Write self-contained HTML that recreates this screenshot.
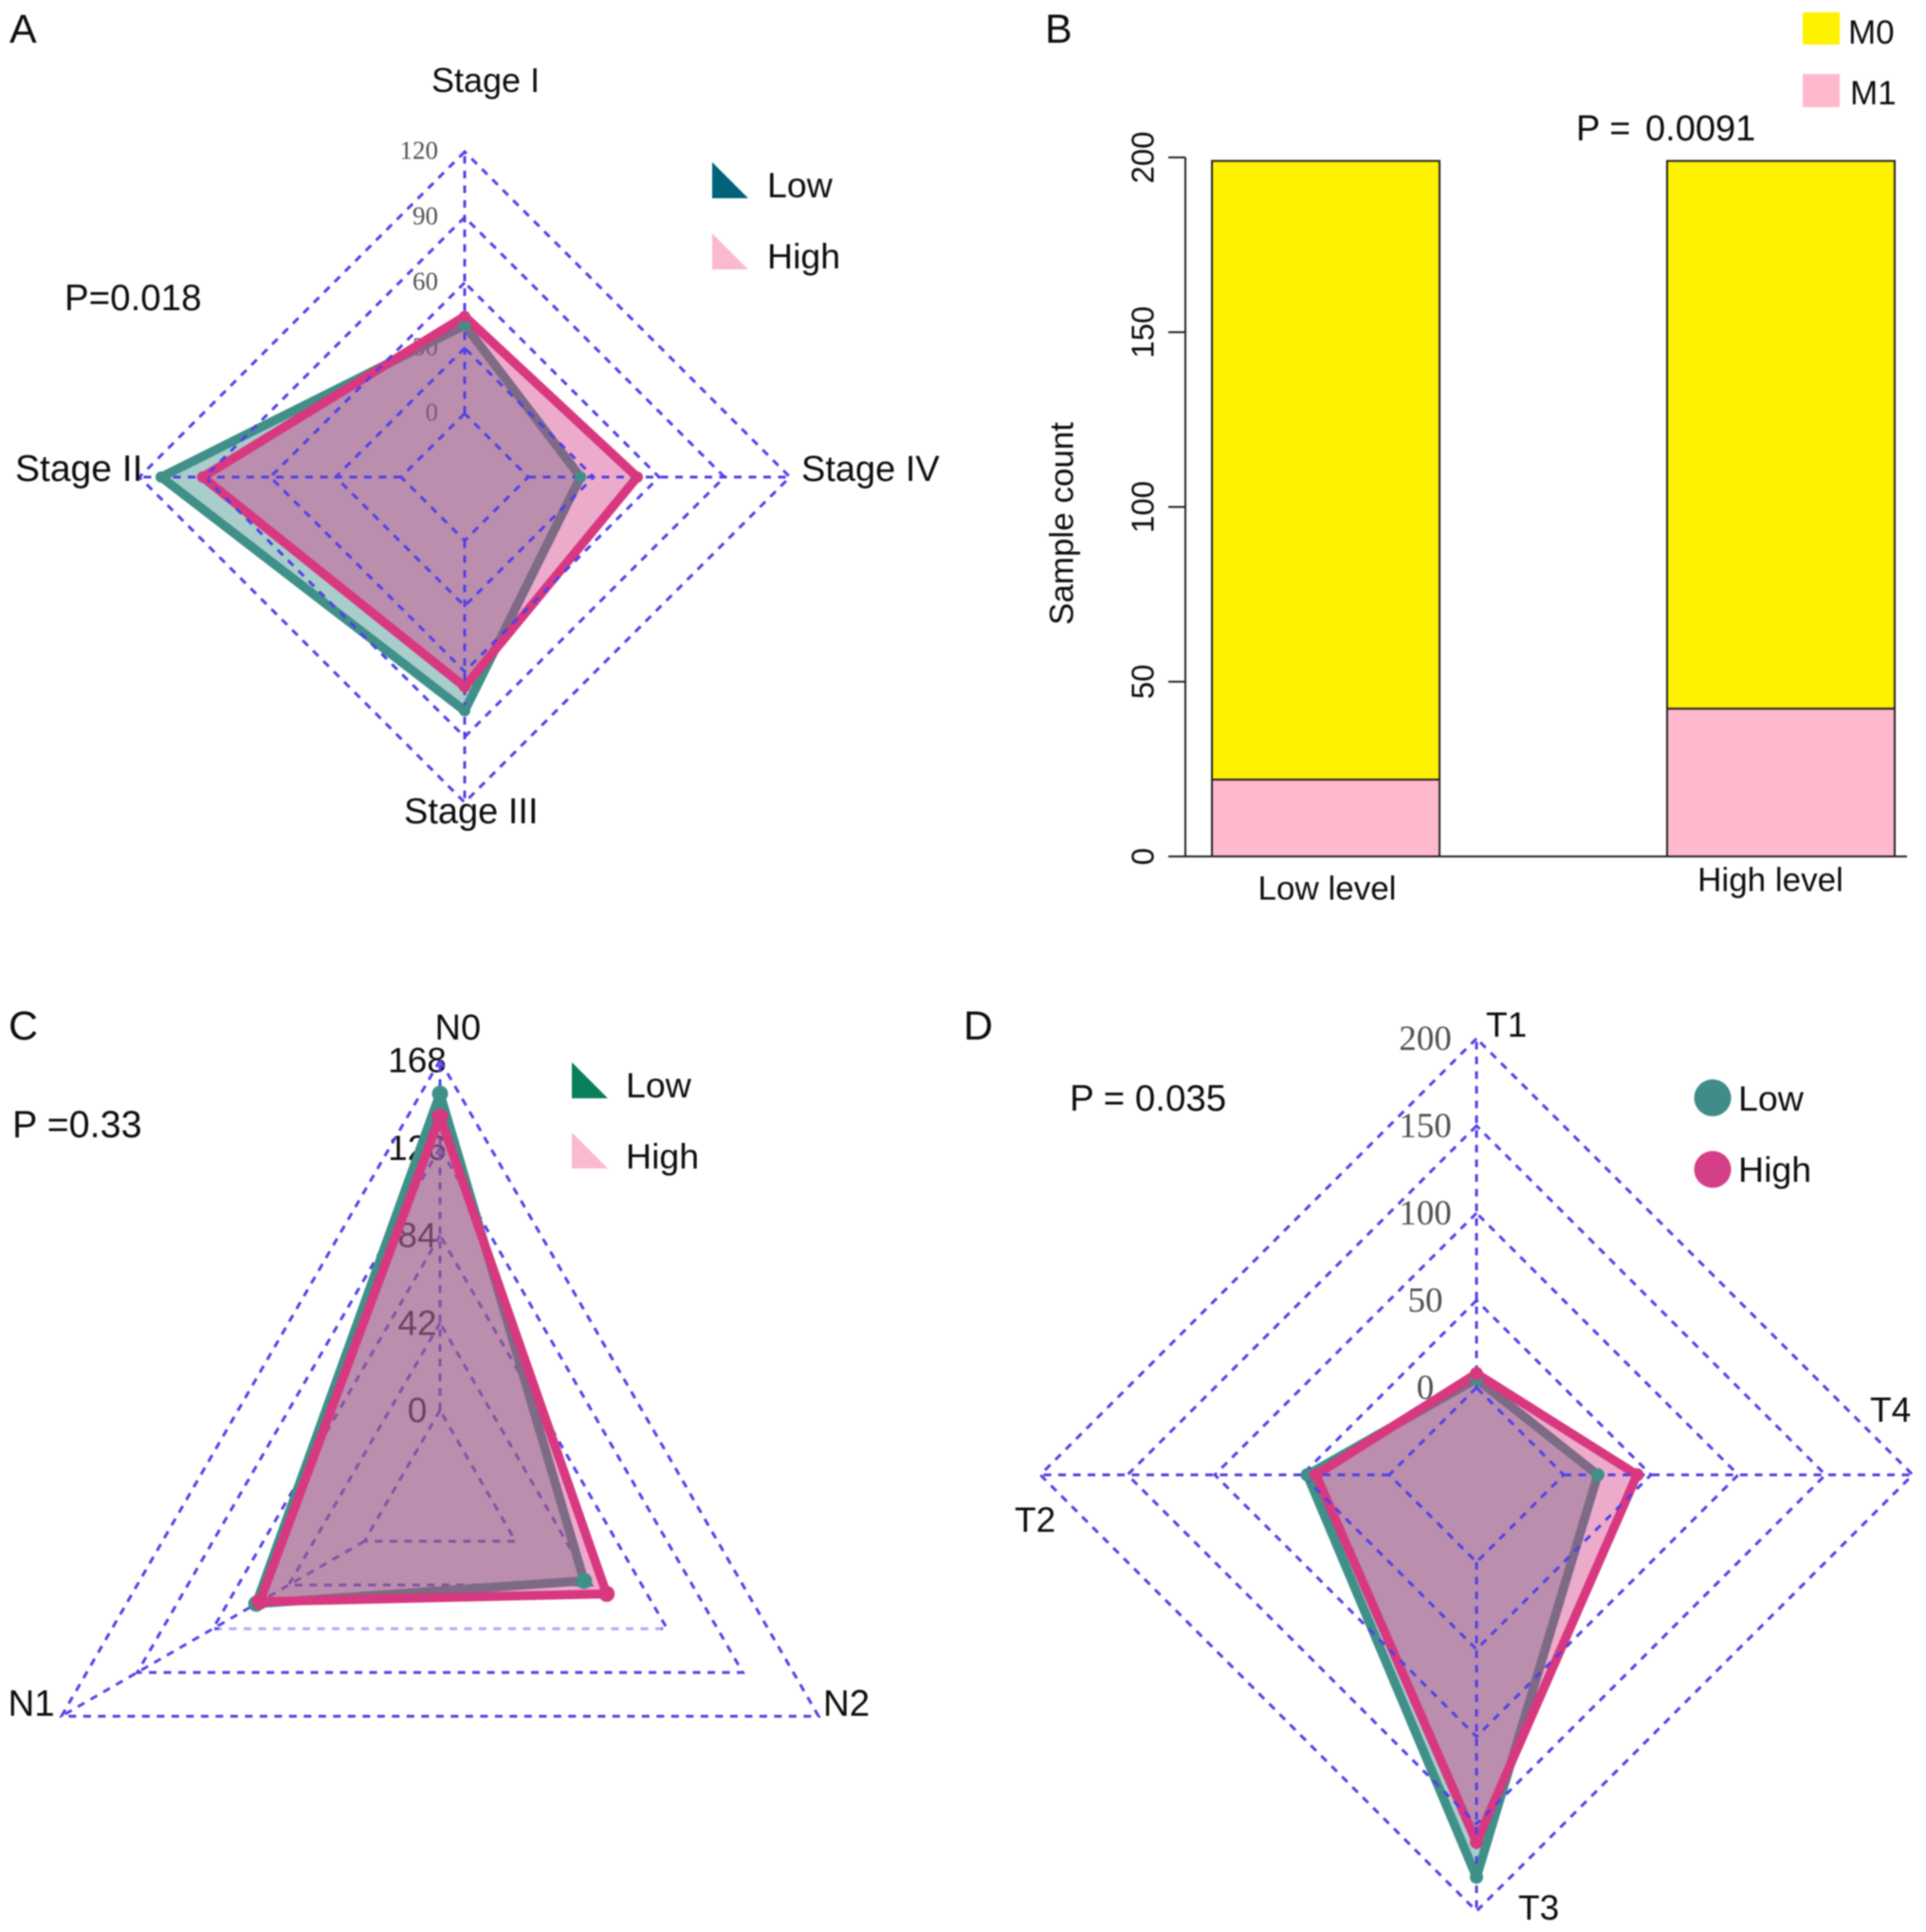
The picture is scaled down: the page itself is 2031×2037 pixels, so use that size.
<!DOCTYPE html>
<html lang="en">
<head>
<meta charset="utf-8">
<title>Radar and stacked bar panels</title>
<style>
html,body{margin:0;padding:0;background:#fff;}
svg{display:block;filter:blur(0.8px);}
text{font-family:"Liberation Sans",Arial,sans-serif;fill:#0d0d0d;}
text.serif{font-family:"Liberation Serif",serif;fill:#505050;}
</style>
</head>
<body>
<svg id="figure" xmlns="http://www.w3.org/2000/svg" width="2031" height="2037" viewBox="0 0 2031 2037"></svg>
<script>
const stageCategories = ['Stage I', 'Stage II', 'Stage III', 'Stage IV'];
const stageTicks = [0, 30, 60, 90, 120];
const stageLow = [40.5, 110, 78, 24];
const stageHigh = [44.5, 91, 67, 50];

const nodeCategories = ['N0', 'N1', 'N2'];
const nodeTicks = [0, 42, 84, 126, 168];
const nodeLow = [152, 60, 38];
const nodeHigh = [141, 58, 50.5];

const tumorCategories = ['T1', 'T2', 'T3', 'T4'];
const tumorTicks = [0, 50, 100, 150, 200];
const tumorLow = [5, 47, 180.5, 19.5];
const tumorHigh = [8, 42, 160.5, 42];

const barCategories = ['Low level', 'High level'];
const barTicks = [0, 50, 100, 150, 200];
const barM1 = [22, 42.3];
const barM0 = [177, 156.7];

const NS = 'http://www.w3.org/2000/svg';
const svg = document.getElementById('figure');
const LOW = '#3f9088', HIGH = '#d8387f', GRID = '#5240e6';

function mk(tag, attrs, parent) {
  const el = document.createElementNS(NS, tag);
  for (const k in attrs) el.setAttribute(k, attrs[k]);
  (parent || svg).appendChild(el);
  return el;
}
function label(str, x, y, size, name, opts) {
  opts = opts || {};
  const el = mk('text', {x: x, y: y, 'font-size': size}, opts.parent);
  if (opts.anchor) el.setAttribute('text-anchor', opts.anchor);
  if (opts.cls) el.setAttribute('class', opts.cls);
  if (opts.rotate) el.setAttribute('transform', 'rotate(-90 ' + x + ' ' + y + ')');
  
  
  el.textContent = str;
  return el;
}

function radar(p) {
  const g = mk('g', {});
  
  
  const n = p.categories.length;
  const max = p.ticks[p.ticks.length - 1];
  const radius = v => p.r0 + (p.r1 - p.r0) * v / max;
  const pt = (i, r) => {
    const a = Math.PI / 2 + i * 2 * Math.PI / n;
    return [p.cx + r * Math.cos(a), p.cy - r * Math.sin(a)];
  };
  const poly = vals => vals.map((v, i) => pt(i, radius(v)).map(c => c.toFixed(1)).join(',')).join(' ');

  function drawGrid() {
    p.ticks.forEach(t => {
      const ring = mk('polygon', {
        points: poly(p.categories.map(() => t)), fill: 'none', stroke: GRID,
        'stroke-width': 3, 'stroke-dasharray': '8 7.5'
      }, g);
      
      
    });
    p.categories.forEach((c, i) => {
      if (p.hideSpoke === i) return;
      const a = pt(i, radius(0)), b = pt(i, radius(max));
      const sp = mk('line', {
        x1: a[0], y1: a[1], x2: b[0], y2: b[1], stroke: GRID,
        'stroke-width': 3, 'stroke-dasharray': '8 7.5'
      }, g);
      
      
    });
    if (p.faintTick !== undefined) {
      const a = pt(1, radius(p.faintTick)), b = pt(2, radius(p.faintTick));
      const veil = mk('line', {
        x1: a[0] + 6, y1: a[1], x2: b[0] - 6, y2: b[1], stroke: '#fff',
        'stroke-width': 5, 'stroke-opacity': 0.55
      }, g);
      
      
    }
  }

  p.ticks.forEach(t => {
    label(String(t), p.tickX, p.cy - radius(t) + p.tickDy, p.tickSize, 'tick-label-' + t,
      {parent: g, anchor: p.tickAnchor, cls: p.tickClass});
  });
  if (!p.gridOnTop) drawGrid();

  const lowShape = mk('polygon', {
    points: poly(p.low), fill: 'rgb(62,145,140)', 'fill-opacity': 0.45,
    stroke: LOW, 'stroke-width': 9.5, 'stroke-linejoin': 'round'
  }, g);
  
  

  const highShape = mk('polygon', {
    points: poly(p.high), fill: 'rgb(212,55,130)', 'fill-opacity': 0.42, stroke: 'none'
  }, g);
  
  

  const highLine = mk('polygon', {
    points: poly(p.high), fill: 'none', stroke: HIGH, 'stroke-width': 9.5, 'stroke-linejoin': 'round'
  }, g);
  
  

  if (p.gridOnTop) drawGrid();

  p.low.forEach((v, i) => {
    const c = pt(i, radius(v));
    const d = mk('circle', {cx: c[0], cy: c[1], r: p.dotR, fill: LOW}, g);
    
    
  });
  p.high.forEach((v, i) => {
    const c = pt(i, radius(v));
    const d = mk('circle', {cx: c[0], cy: c[1], r: p.dotR, fill: HIGH}, g);
    
    
  });
}

function triangle(x, yTop, size, color, name) {
  const t = mk('polygon', {
    points: x + ',' + yTop + ' ' + x + ',' + (yTop + size) + ' ' + (x + size) + ',' + (yTop + size),
    fill: color
  });
  
  
}

/* Panel A */
label('A', 10, 45, 43, 'panel-label-a');
radar({name: 'stage-radar', categories: stageCategories, ticks: stageTicks, low: stageLow, high: stageHigh,
  cx: 490, cy: 503, r0: 67, r1: 343, tickX: 462, tickDy: 7.5, tickSize: 27, tickAnchor: 'end', tickClass: 'serif', gridOnTop: true, dotR: 6});
label(stageCategories[0], 455, 97, 36, 'axis-label-stage-i');
label(stageCategories[1], 16, 507, 39, 'axis-label-stage-ii');
label(stageCategories[2], 426, 868, 38, 'axis-label-stage-iii');
label(stageCategories[3], 845, 507, 38, 'axis-label-stage-iv');
label('P=0.018', 68, 327, 38.5, 'p-value-a');
triangle(751, 171, 38, '#00637a', 'legend-marker-low');
label('Low', 809, 208, 37.5, 'legend-label-low');
triangle(751, 246, 38, '#fbb9cd', 'legend-marker-high');
label('High', 809, 283, 37.5, 'legend-label-high');

/* Panel B */
label('B', 1102, 45, 43, 'panel-label-b');
const barY = v => 903 - v * (903 - 166) / 200;
const barX = [1278, 1758];
const barW = 240;
barCategories.forEach((c, i) => {
  const m1 = mk('rect', {x: barX[i], y: barY(barM1[i]), width: barW, height: barY(0) - barY(barM1[i]),
    fill: '#ffb9cc', stroke: '#222', 'stroke-width': 2});
  
  
  const top = barM1[i] + barM0[i];
  const m0 = mk('rect', {x: barX[i], y: barY(top), width: barW, height: barY(barM1[i]) - barY(top),
    fill: '#fff200', stroke: '#222', 'stroke-width': 2});
  
  
});
const yAxis = mk('line', {x1: 1250, y1: barY(200), x2: 1250, y2: barY(0), stroke: '#222', 'stroke-width': 2});


const xAxis = mk('line', {x1: 1232, y1: barY(0), x2: 2011, y2: barY(0), stroke: '#222', 'stroke-width': 2});


barTicks.forEach(t => {
  const tk = mk('line', {x1: 1232, y1: barY(t), x2: 1250, y2: barY(t), stroke: '#222', 'stroke-width': 2});
  
  
  label(String(t), 1216.5, barY(t), 33, 'y-tick-label-' + t, {anchor: 'middle', rotate: true});
});
label('Sample count', 1131.5, 552, 35, 'y-axis-title', {anchor: 'middle', rotate: true});
label(barCategories[0], 1399.5, 948.5, 35, 'x-label-low-level', {anchor: 'middle'});
label(barCategories[1], 1867, 939.5, 35, 'x-label-high-level', {anchor: 'middle'});
label('P =', 1662, 148, 38, 'p-value-b-prefix');
label('0.0091', 1735, 148, 38, 'p-value-b');
const swM0 = mk('rect', {x: 1901, y: 13, width: 39, height: 34, fill: '#fff200'});


const swM1 = mk('rect', {x: 1901, y: 78, width: 39, height: 35, fill: '#ffb9cc'});


label('M0', 1949, 46, 35, 'legend-label-m0');
label('M1', 1951, 110, 35, 'legend-label-m1');

/* Panel C */
label('C', 9, 1096, 43, 'panel-label-c');
radar({name: 'node-radar', categories: nodeCategories, ticks: nodeTicks, low: nodeLow, high: nodeHigh,
  cx: 464, cy: 1579, r0: 92, r1: 461, tickX: 440, tickDy: 12.5, tickSize: 37, tickAnchor: 'middle', tickClass: '',
  gridOnTop: false, hideSpoke: 2, faintTick: 84, dotR: 8.5});
label(nodeCategories[0], 458.5, 1096, 38, 'axis-label-n0');
label(nodeCategories[1], 8.5, 1809, 38.5, 'axis-label-n1');
label(nodeCategories[2], 868, 1809, 38.5, 'axis-label-n2');
label('P =0.33', 13, 1199, 39.5, 'p-value-c');
triangle(603, 1120, 38, '#0a7f5c', 'legend-marker-low-c');
label('Low', 660, 1157, 37.5, 'legend-label-low-c');
triangle(603, 1194, 38, '#fbb9cd', 'legend-marker-high-c');
label('High', 660, 1232, 37.5, 'legend-label-high-c');

/* Panel D */
label('D', 1016, 1096, 43, 'panel-label-d');
radar({name: 'tumor-radar', categories: tumorCategories, ticks: tumorTicks, low: tumorLow, high: tumorHigh,
  cx: 1557, cy: 1555, r0: 92, r1: 460, tickX: 1503, tickDy: 12, tickSize: 37, tickAnchor: 'middle', tickClass: 'serif', gridOnTop: true, dotR: 7});
label(tumorCategories[0], 1567, 1093, 37, 'axis-label-t1');
label(tumorCategories[1], 1070, 1615, 37, 'axis-label-t2');
label(tumorCategories[2], 1601, 2024, 37, 'axis-label-t3');
label(tumorCategories[3], 1972, 1499, 37, 'axis-label-t4');
label('P = 0.035', 1128, 1171, 38.5, 'p-value-d');
const dotLow = mk('circle', {cx: 1806, cy: 1157.5, r: 19.5, fill: '#3f8c88'});


label('Low', 1833, 1171, 37.5, 'legend-label-low-d');
const dotHigh = mk('circle', {cx: 1806, cy: 1233, r: 19.5, fill: '#d43f88'});


label('High', 1833, 1246, 37.5, 'legend-label-high-d');
</script>
</body>
</html>
